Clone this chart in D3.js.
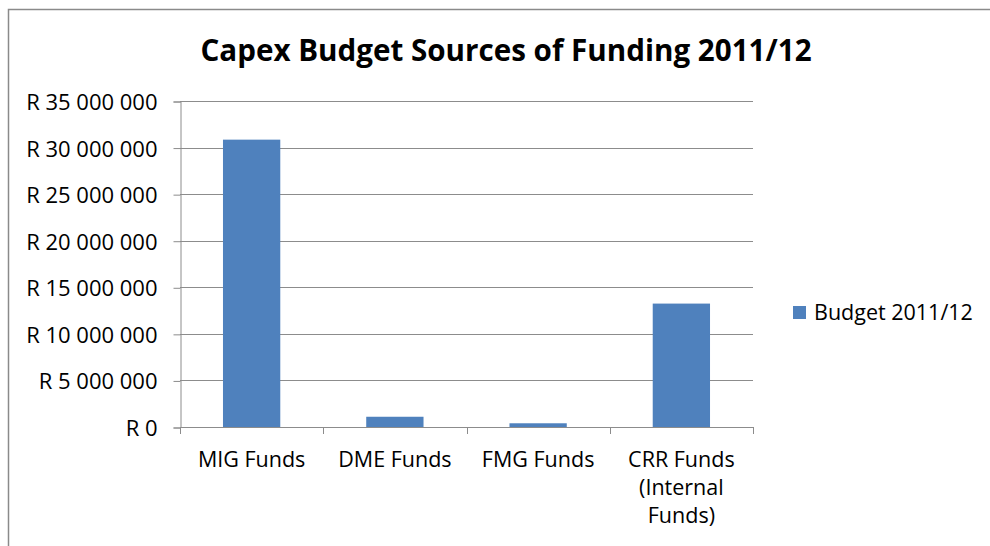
<!DOCTYPE html>
<html>
<head>
<meta charset="utf-8">
<script src="https://cdn.jsdelivr.net/npm/d3@7"></script>
<style>
  html, body { margin: 0; padding: 0; background: #fff; }
  svg { display: block; font-family: "Open Sans", Lato, sans-serif; }
</style>
</head>
<body>
<svg id="chart" width="990" height="546"></svg>
<script>
// Funding sources for the 2011/12 capital budget (Rand)
const categories = ["MIG Funds", "DME Funds", "FMG Funds", "CRR Funds (Internal Funds)"];
const categoryLines = [["MIG Funds"], ["DME Funds"], ["FMG Funds"], ["CRR Funds", "(Internal", "Funds)"]];
const budget = [30850000, 1100000, 400000, 13250000];
const yTicks = [0, 5000000, 10000000, 15000000, 20000000, 25000000, 30000000, 35000000];
const seriesName = "Budget 2011/12";
const title = "Capex Budget Sources of Funding 2011/12";

const svg = d3.select("#chart");
const W = 990, H = 546;
const plot = { left: 180, right: 753, top: 101, bottom: 427 };
const barColor = "#4F81BD";
const gridColor = "#8c8c8c";

// outer frame
svg.append("path")
  .attr("d", `M8.5,${H} V9.5 H${W}`)
  .attr("fill", "none")
  .attr("stroke", "#8a8a8a")
  .attr("stroke-width", 1.5);

// title
svg.append("text")
  .attr("x", 506).attr("y", 61)
  .attr("text-anchor", "middle")
  .attr("font-weight", "bold")
  .attr("font-size", 29.6)
  .attr("fill", "#000")
  .text(title);

const x = d3.scaleBand()
  .domain(categories)
  .range([plot.left, plot.right])
  .paddingInner(0.6)
  .paddingOuter(0.3);

const y = d3.scaleLinear()
  .domain([0, 35000000])
  .range([plot.bottom, plot.top]);

const fmt = v => "R " + d3.format(",")(v).replace(/,/g, " ");

// horizontal gridlines
svg.append("g")
  .selectAll("line")
  .data(yTicks.filter(d => d > 0))
  .join("line")
  .attr("x1", plot.left).attr("x2", plot.right)
  .attr("y1", d => Math.round(y(d)) + 0.5).attr("y2", d => Math.round(y(d)) + 0.5)
  .attr("stroke", gridColor).attr("stroke-width", 1);

// y axis
const yAxis = svg.append("g")
  .attr("transform", `translate(${plot.left + 0.5},0.5)`)
  .call(d3.axisLeft(y).tickValues(yTicks).tickFormat(fmt).tickSize(7).tickPadding(16))
  .attr("font-family", null)
  .attr("font-size", null);
yAxis.select(".domain").attr("stroke", gridColor);
yAxis.selectAll(".tick line").attr("stroke", gridColor);
yAxis.selectAll(".tick text")
  .attr("font-size", 22)
  .attr("dy", 8)
  .attr("fill", "#000");

// bars
svg.append("g")
  .selectAll("rect")
  .data(budget)
  .join("rect")
  .attr("x", (d, i) => x(categories[i]))
  .attr("width", x.bandwidth())
  .attr("y", d => y(d))
  .attr("height", d => y(0) - y(d))
  .attr("fill", barColor);

// x axis line and category boundary ticks
const xg = svg.append("g");
xg.append("line")
  .attr("x1", plot.left).attr("x2", plot.right)
  .attr("y1", Math.round(y(0)) + 0.5).attr("y2", Math.round(y(0)) + 0.5)
  .attr("stroke", gridColor);
const step = x.step();
const bounds = d3.range(categories.length + 1).map(i => x.range()[0] + i * step);
xg.selectAll("line.tk")
  .data(bounds)
  .join("line")
  .attr("class", "tk")
  .attr("x1", d => Math.round(d) + 0.5).attr("x2", d => Math.round(d) + 0.5)
  .attr("y1", Math.round(y(0))).attr("y2", Math.round(y(0)) + 7)
  .attr("stroke", gridColor);

// category labels
const labels = xg.selectAll("text.cat")
  .data(categories)
  .join("text")
  .attr("class", "cat")
  .attr("text-anchor", "middle")
  .attr("font-size", 21.5)
  .attr("fill", "#000")
  .attr("x", d => x(d) + x.bandwidth() / 2)
  .attr("y", 467);
labels.each(function(d, i) {
  d3.select(this).selectAll("tspan")
    .data(categoryLines[i])
    .join("tspan")
    .attr("x", x(d) + x.bandwidth() / 2)
    .attr("dy", (t, j) => j === 0 ? 0 : 28)
    .text(t => t);
});

// legend
const lg = svg.append("g").attr("transform", "translate(793,306)");
lg.append("rect").attr("width", 13).attr("height", 13).attr("fill", barColor);
lg.append("text")
  .attr("x", 21).attr("y", 14)
  .attr("font-size", 21.5)
  .attr("fill", "#000")
  .text(seriesName);
</script>
</body>
</html>
